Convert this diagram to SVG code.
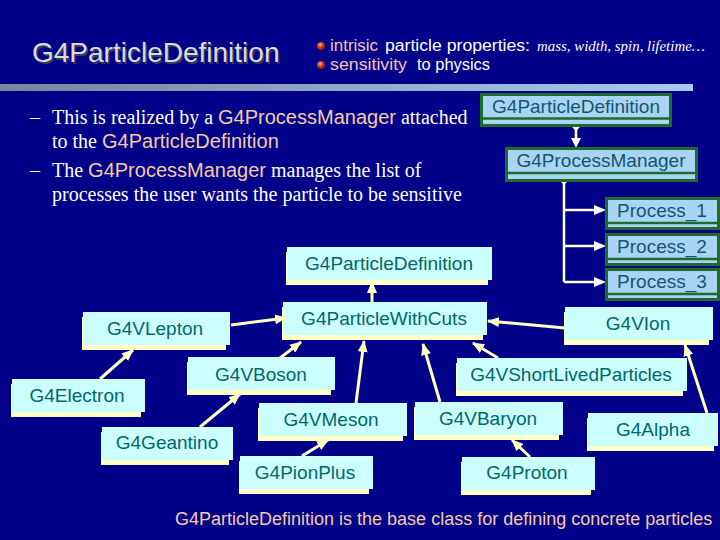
<svg xmlns="http://www.w3.org/2000/svg" width="720" height="540" viewBox="0 0 720 540">
<style>
.bg{fill:#000088}
.sh{fill:#ffffc8}
.bx{fill:#ccffff}
.bt{font-family:"Liberation Sans",Arial,sans-serif;font-size:19px;fill:#006868;text-anchor:middle}
.ub{fill:#a9d4f5;stroke:#1f6b2c;stroke-width:3}
.ud{stroke:#1f6b2c;stroke-width:2.5}
.ut{font-family:"Liberation Sans",Arial,sans-serif;font-size:19px;fill:#17566a;text-anchor:middle}
.ser{font-family:"Liberation Serif","Times New Roman",serif;font-size:20px;fill:#ffffff}
.hl{font-family:"Liberation Sans",Arial,sans-serif;font-size:20px;fill:#f5cba8}
.bl{font-family:"Liberation Sans",Arial,sans-serif;font-size:16px;fill:#ffffff}
.pk{fill:#f2c6bc}
.it{font-family:"Liberation Serif","Times New Roman",serif;font-style:italic;font-size:15px;fill:#ffffff}
.ya{stroke:#ffffc4;stroke-width:3;fill:none}
.wl{stroke:#ffffff;stroke-width:2.5;fill:none}
.wf{fill:#ffffff}
</style>
<defs>
<linearGradient id="bar" x1="0" y1="0" x2="1" y2="0">
<stop offset="0" stop-color="#76869c"/>
<stop offset="1" stop-color="#a8cbf5"/>
</linearGradient>
<radialGradient id="bul" cx="0.4" cy="0.35" r="0.65">
<stop offset="0" stop-color="#ffb090"/>
<stop offset="0.5" stop-color="#d04020"/>
<stop offset="1" stop-color="#801808"/>
</radialGradient>
<marker id="ya" markerUnits="userSpaceOnUse" markerWidth="12" markerHeight="10" refX="11" refY="5" orient="auto">
<path d="M0,0 L12,5 L0,10 Z" fill="#ffffc4"/>
</marker>
</defs>
<rect class="bg" x="0" y="0" width="720" height="540"/>
<rect x="0" y="84" width="693" height="7" fill="url(#bar)"/>

<g id="title">
<text x="33.5" y="63.5" font-family="Liberation Sans,Arial,sans-serif" font-size="28" fill="#3a3a60">G4ParticleDefinition</text>
<text x="32" y="62" font-family="Liberation Sans,Arial,sans-serif" font-size="28" fill="#dcdcdc">G4ParticleDefinition</text>
</g>

<g id="bullets">
<circle cx="321" cy="46" r="4" fill="url(#bul)"/>
<circle cx="321" cy="65" r="4" fill="url(#bul)"/>
<text class="bl pk" x="330" y="51" textLength="48" lengthAdjust="spacingAndGlyphs">intrisic</text>
<text class="bl" x="385" y="51" textLength="145" lengthAdjust="spacingAndGlyphs">particle properties:</text>
<text class="it" x="537" y="51" textLength="168" lengthAdjust="spacingAndGlyphs">mass, width, spin, lifetime…</text>
<text class="bl pk" x="330" y="70" textLength="77" lengthAdjust="spacingAndGlyphs">sensitivity</text>
<text class="bl" x="417" y="70" textLength="73" lengthAdjust="spacingAndGlyphs">to physics</text>
</g>

<g id="paragraph">
<text class="ser" x="30" y="124">–</text>
<text class="ser" x="52" y="124">This is realized by a <tspan class="hl">G4ProcessManager</tspan> attached</text>
<text class="ser" x="52" y="148">to the <tspan class="hl">G4ParticleDefinition</tspan></text>
<text class="ser" x="30" y="177">–</text>
<text class="ser" x="52" y="177">The <tspan class="hl">G4ProcessManager</tspan> manages the list of</text>
<text class="ser" x="52" y="201">processes the user wants the particle to be sensitive</text>
</g>

<g id="uml-connectors">
<line class="wl" x1="576" y1="127" x2="576" y2="140"/>
<polygon class="wf" points="571,138 581,138 576,148"/>
<polygon class="wf" points="576,123 580,127 576,131 572,127"/>
<line class="wl" x1="564" y1="181" x2="564" y2="282"/>
<polygon class="wf" points="564,177 568,181 564,185 560,181"/>
<line class="wl" x1="564" y1="210" x2="596" y2="210"/>
<polygon class="wf" points="594,205 606,210 594,215"/>
<line class="wl" x1="564" y1="246" x2="596" y2="246"/>
<polygon class="wf" points="594,241 606,246 594,251"/>
<line class="wl" x1="564" y1="282" x2="596" y2="282"/>
<polygon class="wf" points="594,277 606,282 594,287"/>
</g>

<g id="uml-particledefinition">
<rect class="ub" x="481.5" y="94.5" width="189" height="31"/>
<line class="ud" x1="481" y1="118.5" x2="671" y2="118.5"/>
<text class="ut" x="576" y="113">G4ParticleDefinition</text>
</g>
<g id="uml-processmanager">
<rect class="ub" x="506.5" y="148.5" width="190" height="32"/>
<line class="ud" x1="506" y1="173" x2="697" y2="173"/>
<text class="ut" x="601" y="167">G4ProcessManager</text>
</g>
<g id="uml-process1">
<rect class="ub" x="606.5" y="198.5" width="112" height="30"/>
<line class="ud" x1="606" y1="223" x2="719" y2="223"/>
<text class="ut" x="662" y="217">Process_1</text>
</g>
<g id="uml-process2">
<rect class="ub" x="606.5" y="234.5" width="112" height="30"/>
<line class="ud" x1="606" y1="259" x2="719" y2="259"/>
<text class="ut" x="662" y="253">Process_2</text>
</g>
<g id="uml-process3">
<rect class="ub" x="606.5" y="269.5" width="112" height="30"/>
<line class="ud" x1="606" y1="294" x2="719" y2="294"/>
<text class="ut" x="662" y="288">Process_3</text>
</g>

<g id="pd"><rect class="sh" x="286" y="252" width="202" height="33"/><rect class="bx" x="287" y="247" width="205" height="33"/><text class="bt" x="389" y="270">G4ParticleDefinition</text></g>
<g id="pwc"><rect class="sh" x="282" y="307" width="201" height="33"/><rect class="bx" x="283" y="302" width="204" height="33"/><text class="bt" x="384" y="325">G4ParticleWithCuts</text></g>
<g id="vion"><rect class="sh" x="564" y="312" width="145" height="33"/><rect class="bx" x="565" y="307" width="148" height="33"/><text class="bt" x="638" y="330">G4VIon</text></g>
<g id="vlepton"><rect class="sh" x="82" y="317" width="144" height="33"/><rect class="bx" x="83" y="312" width="147" height="33"/><text class="bt" x="155" y="335">G4VLepton</text></g>
<g id="electron"><rect class="sh" x="11" y="384" width="130" height="33"/><rect class="bx" x="12" y="379" width="133" height="33"/><text class="bt" x="77" y="402">G4Electron</text></g>
<g id="vboson"><rect class="sh" x="187" y="362" width="144" height="33"/><rect class="bx" x="188" y="357" width="147" height="33"/><text class="bt" x="261" y="381">G4VBoson</text></g>
<g id="geantino"><rect class="sh" x="101" y="432" width="128" height="33"/><rect class="bx" x="102" y="427" width="131" height="33"/><text class="bt" x="167" y="449">G4Geantino</text></g>
<g id="vmeson"><rect class="sh" x="258" y="408" width="145" height="33"/><rect class="bx" x="259" y="403" width="148" height="33"/><text class="bt" x="331" y="426">G4VMeson</text></g>
<g id="pionplus"><rect class="sh" x="239" y="461" width="130" height="33"/><rect class="bx" x="240" y="456" width="133" height="33"/><text class="bt" x="305" y="479">G4PionPlus</text></g>
<g id="vbaryon"><rect class="sh" x="414" y="407" width="145" height="33"/><rect class="bx" x="415" y="402" width="148" height="33"/><text class="bt" x="488" y="425">G4VBaryon</text></g>
<g id="proton"><rect class="sh" x="461" y="462" width="130" height="33"/><rect class="bx" x="462" y="457" width="133" height="33"/><text class="bt" x="527" y="479">G4Proton</text></g>
<g id="vshortlived"><rect class="sh" x="456" y="363" width="227" height="33"/><rect class="bx" x="457" y="358" width="230" height="33"/><text class="bt" x="571" y="381">G4VShortLivedParticles</text></g>
<g id="alpha"><rect class="sh" x="587" y="418" width="127" height="33"/><rect class="bx" x="588" y="413" width="130" height="33"/><text class="bt" x="653" y="436">G4Alpha</text></g>

<g id="connectors">
<line class="ya" x1="372" y1="302" x2="372" y2="282" marker-end="url(#ya)"/>
<line class="ya" x1="565" y1="328" x2="488" y2="321" marker-end="url(#ya)"/>
<line class="ya" x1="231" y1="325" x2="286" y2="318" marker-end="url(#ya)"/>
<line class="ya" x1="280" y1="358" x2="301" y2="342" marker-end="url(#ya)"/>
<line class="ya" x1="356" y1="403" x2="364" y2="341" marker-end="url(#ya)"/>
<line class="ya" x1="440" y1="402" x2="423" y2="344" marker-end="url(#ya)"/>
<line class="ya" x1="498" y1="358" x2="473" y2="343" marker-end="url(#ya)"/>
<line class="ya" x1="707" y1="413" x2="685" y2="345" marker-end="url(#ya)"/>
<line class="ya" x1="100" y1="379" x2="133" y2="350" marker-end="url(#ya)"/>
<line class="ya" x1="200" y1="427" x2="240" y2="394" marker-end="url(#ya)"/>
<line class="ya" x1="302" y1="456" x2="328" y2="440" marker-end="url(#ya)"/>
<line class="ya" x1="530" y1="457" x2="512" y2="440" marker-end="url(#ya)"/>
</g>

<text id="caption" x="175" y="525" font-family="Liberation Sans,Arial,sans-serif" font-size="18" fill="#f5cba8">G4ParticleDefinition is the base class for defining concrete particles</text>
</svg>
